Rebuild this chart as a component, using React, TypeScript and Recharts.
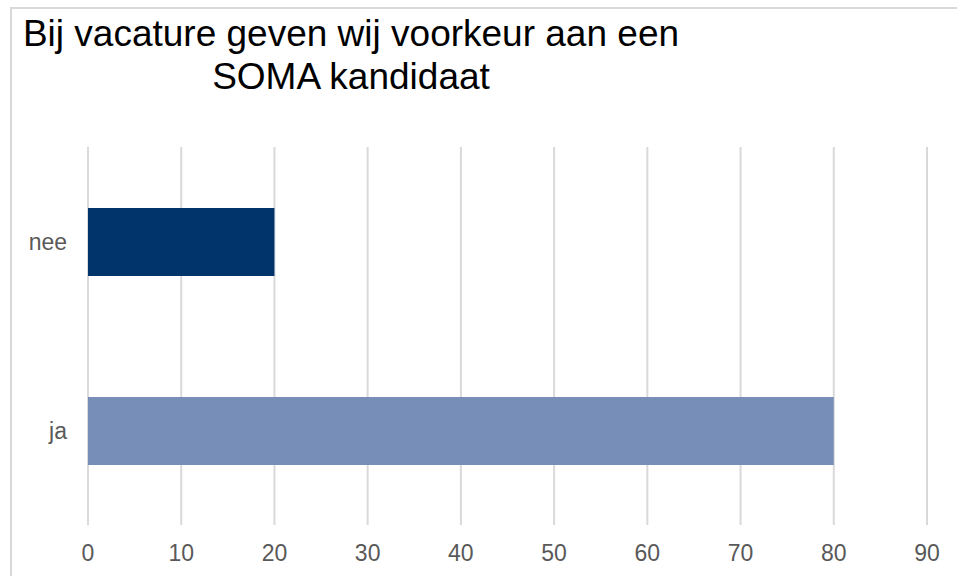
import { BarChart, Bar, XAxis, YAxis, CartesianGrid, Cell } from 'recharts'

const categories = ['nee', 'ja']
const values = [20, 80]
const barColors = ['#00346a', '#778fb8']
const xTicks = [0, 10, 20, 30, 40, 50, 60, 70, 80, 90]
const titleLines = ['Bij vacature geven wij voorkeur aan een', 'SOMA kandidaat']

const data = categories.map((name, i) => ({ name, value: values[i] }))

const font = '"Liberation Sans", Arial, sans-serif'

export default function App() {
  return (
    <div style={{ position: 'absolute', left: 0, top: 0, width: 957, height: 576, overflow: 'hidden', background: '#fff' }}>
      <div
        style={{
          position: 'absolute',
          left: 10,
          top: 7,
          width: 960,
          height: 600,
          border: '2px solid #d9d9d9',
          boxSizing: 'border-box',
        }}
      />
      <div
        style={{
          position: 'absolute',
          left: 0,
          top: 12,
          width: 702,
          textAlign: 'center',
          fontFamily: font,
          fontSize: 37,
          lineHeight: '43px',
          color: '#000',
        }}
      >
        {titleLines.map((t) => (
          <div key={t}>{t}</div>
        ))}
      </div>
      <div style={{ position: 'absolute', left: 0, top: 0 }}>
        <BarChart
          width={957}
          height={576}
          data={data}
          layout="vertical"
          margin={{ top: 147, right: 30, bottom: 0, left: 0 }}
        >
          <CartesianGrid horizontal={false} stroke="#d9d9d9" strokeWidth={2} />
          <XAxis
            type="number"
            domain={[0, 90]}
            ticks={xTicks}
            height={51}
            axisLine={false}
            tickLine={false}
            tickSize={0}
            tickMargin={20}
            tick={{ fontSize: 23, fill: '#595959', fontFamily: font }}
          />
          <YAxis
            type="category"
            dataKey="name"
            width={88}
            axisLine={false}
            tickLine={false}
            tickSize={0}
            tickMargin={21}
            tick={{ fontSize: 23, fill: '#595959', fontFamily: font }}
          />
          <Bar dataKey="value" barSize={68} isAnimationActive={false}>
            {data.map((d, i) => (
              <Cell key={d.name} fill={barColors[i]} />
            ))}
          </Bar>
        </BarChart>
      </div>
    </div>
  )
}
